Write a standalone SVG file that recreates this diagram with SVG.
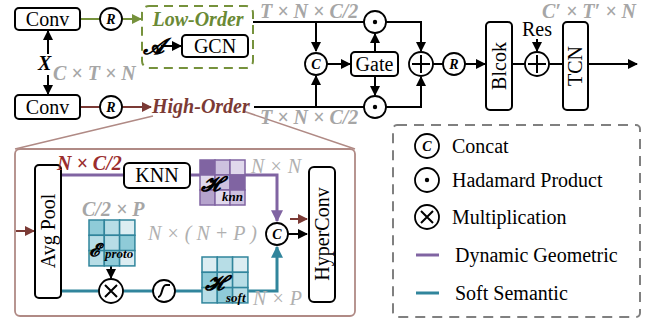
<svg xmlns="http://www.w3.org/2000/svg" width="660" height="326" viewBox="0 0 660 326">
<defs>
<style>
text{font-family:"Liberation Serif","Times New Roman",serif;}
.t{font-size:20px;fill:#000;}
.bi{font-weight:bold;font-style:italic;}
.g{font-size:20px;fill:#a6a6a6;font-weight:bold;font-style:italic;}
.gi{font-size:20px;fill:#b0b0b0;font-style:italic;}
.box{fill:#fff;stroke:#000;stroke-width:2;}
.ln{fill:none;stroke:#000;stroke-width:2;}
.cir{fill:#fff;stroke:#000;stroke-width:1.8;}
.ci{font-size:14px;font-weight:bold;font-style:italic;text-anchor:middle;}
.pu{fill:none;stroke:#8064a2;stroke-width:3;}
.te{fill:none;stroke:#31859c;stroke-width:3;}
.cell{stroke:#31859c;stroke-width:1.5;}
.pcell{stroke:#8064a2;stroke-width:1.5;}
.scr{font-family:"DejaVu Serif","DejaVu Sans",serif;font-weight:bold;font-style:italic;}
.sub{font-size:13px;font-weight:bold;font-style:italic;}
</style>
<marker id="ab" viewBox="0 0 10 10" refX="9" refY="5" markerWidth="5" markerHeight="5" orient="auto"><path d="M0,0 L10,5 L0,10 z" fill="#000"/></marker>
<marker id="ag" viewBox="0 0 10 10" refX="9" refY="5" markerWidth="5" markerHeight="5" orient="auto"><path d="M0,0 L10,5 L0,10 z" fill="#76923c"/></marker>
<marker id="ar" viewBox="0 0 10 10" refX="9" refY="5" markerWidth="5" markerHeight="5" orient="auto"><path d="M0,0 L10,5 L0,10 z" fill="#7b3a35"/></marker>
<marker id="ap" viewBox="0 0 10 10" refX="9" refY="5" markerWidth="4" markerHeight="4" orient="auto"><path d="M0,0 L10,5 L0,10 z" fill="#8064a2"/></marker>
<marker id="at" viewBox="0 0 10 10" refX="9" refY="5" markerWidth="4" markerHeight="4" orient="auto"><path d="M0,0 L10,5 L0,10 z" fill="#31859c"/></marker>
</defs>

<g id="connectors">
<line x1="80" y1="19" x2="100" y2="19" stroke="#76923c" stroke-width="2"/>
<line x1="122" y1="19" x2="141" y2="19" stroke="#76923c" stroke-width="2" marker-end="url(#ag)"/>
<line x1="161" y1="46" x2="181" y2="46" class="ln" marker-end="url(#ab)"/>
<line x1="48" y1="54" x2="48" y2="31" class="ln" marker-end="url(#ab)"/>
<line x1="48" y1="75" x2="48" y2="94" class="ln" marker-end="url(#ab)"/>
<line x1="80" y1="107" x2="100" y2="107" stroke="#7b3a35" stroke-width="2"/>
<line x1="122" y1="107" x2="151" y2="107" stroke="#7b3a35" stroke-width="2" marker-end="url(#ar)"/>
<line x1="253" y1="22" x2="364" y2="22" class="ln"/>
<line x1="254" y1="107" x2="364" y2="107" class="ln"/>
<line x1="316" y1="22" x2="316" y2="51" class="ln" marker-end="url(#ab)"/>
<line x1="316" y1="107" x2="316" y2="76" class="ln" marker-end="url(#ab)"/>
<line x1="327" y1="64" x2="350" y2="64" class="ln" marker-end="url(#ab)"/>
<line x1="375" y1="52" x2="375" y2="34" class="ln" marker-end="url(#ab)"/>
<line x1="375" y1="76" x2="375" y2="95" class="ln" marker-end="url(#ab)"/>
<polyline points="386,22 421,22 421,51" class="ln" marker-end="url(#ab)"/>
<polyline points="386,107 421,107 421,77" class="ln" marker-end="url(#ab)"/>
<line x1="433" y1="64" x2="443" y2="64" class="ln"/>
<line x1="465" y1="64" x2="485" y2="64" class="ln" marker-end="url(#ab)"/>
<line x1="512" y1="64" x2="525" y2="64" class="ln"/>
<line x1="537" y1="39" x2="537" y2="51" class="ln" marker-end="url(#ab)"/>
<line x1="549" y1="64" x2="563" y2="64" class="ln"/>
<line x1="588" y1="64" x2="637" y2="64" class="ln" marker-end="url(#ab)"/>
<line x1="153" y1="116" x2="15" y2="149" stroke="#b08a85" stroke-width="1.5"/>
<line x1="243" y1="111" x2="355" y2="149" stroke="#b08a85" stroke-width="1.5"/>
<line x1="16" y1="231" x2="34" y2="231" stroke="#7b3a35" stroke-width="2" marker-end="url(#ar)"/>
<line x1="61" y1="175" x2="124" y2="175" class="pu"/>
<line x1="190" y1="175" x2="200" y2="175" class="pu"/>
<polyline points="245,175 277,175 277,221" class="pu" marker-end="url(#ap)"/>
<line x1="61" y1="291" x2="99" y2="291" class="te"/>
<line x1="123" y1="291" x2="153" y2="291" class="te"/>
<line x1="175" y1="291" x2="202" y2="291" class="te"/>
<polyline points="248,291 277,291 277,247" class="te" marker-end="url(#at)"/>
<line x1="111" y1="266" x2="111" y2="278" class="ln" stroke-width="1.5" marker-end="url(#ab)"/>
<line x1="288" y1="234" x2="307" y2="234" class="ln" marker-end="url(#ab)"/>
<line x1="290" y1="219" x2="307" y2="219" stroke="#7b3a35" stroke-width="2" marker-end="url(#ar)"/>
</g>

<g id="conv1"><rect x="15" y="8" width="65" height="22" rx="4" class="box"/><text x="47.5" y="26" class="t" text-anchor="middle">Conv</text></g>
<g id="conv2"><rect x="15" y="95" width="65" height="24" rx="4" class="box"/><text x="47.5" y="114" class="t" text-anchor="middle">Conv</text></g>
<g id="r1"><circle cx="111" cy="19" r="11" class="cir"/><text x="111" y="24" class="ci">R</text></g>
<g id="r2"><circle cx="111" cy="107" r="11" class="cir"/><text x="111" y="112" class="ci">R</text></g>
<g id="x-label"><text x="38" y="70" class="t bi">X</text><text x="53" y="80" class="g">C × T × N</text></g>

<g id="low-order">
<rect x="142" y="6" width="111" height="62" rx="7" fill="none" stroke="#76923c" stroke-width="2" stroke-dasharray="9,6"/>
<text x="198" y="26" class="t bi" style="fill:#6a8a35" text-anchor="middle">Low-Order</text>
<text x="143" y="54" class="scr" style="font-size:22px">𝓐</text>
</g>
<g id="gcn"><rect x="182" y="35" width="66" height="22" rx="4" class="box"/><text x="215" y="53" class="t" text-anchor="middle">GCN</text></g>
<g id="high-order"><text x="152" y="113" class="t bi" style="fill:#7b3a35">High-Order</text></g>

<text x="260" y="18" class="g">T × N × C/2</text>
<text x="260" y="124" class="g">T × N × C/2</text>
<text x="542" y="18" class="g">C′ × T′ × N</text>

<g id="had1"><circle cx="375" cy="22" r="11" class="cir"/><circle cx="375" cy="22" r="2.2" fill="#000"/></g>
<g id="had2"><circle cx="375" cy="107" r="11" class="cir"/><circle cx="375" cy="107" r="2.2" fill="#000"/></g>
<g id="concat1"><circle cx="316" cy="64" r="11" class="cir"/><text x="316" y="69" class="ci">C</text></g>
<g id="gate"><rect x="351" y="52" width="47" height="24" rx="4" class="box"/><text x="374.5" y="71" class="t" text-anchor="middle">Gate</text></g>
<g id="plus1"><circle cx="421" cy="64" r="12" class="cir"/><path d="M421,55 V73 M412,64 H430" class="ln" stroke-width="1.8"/></g>
<g id="r3"><circle cx="454" cy="64" r="11" class="cir"/><text x="454" y="69" class="ci">R</text></g>
<g id="blcok"><rect x="486" y="22" width="26" height="88" rx="4" class="box"/><text transform="translate(506,66) rotate(-90)" class="t" text-anchor="middle">Blcok</text></g>
<g id="plus2"><circle cx="537" cy="64" r="12" class="cir"/><path d="M537,55 V73 M528,64 H546" class="ln" stroke-width="1.8"/></g>
<g id="res"><text x="537" y="36" class="t" text-anchor="middle">Res</text></g>
<g id="tcn"><rect x="563" y="22" width="25" height="88" rx="4" class="box"/><text transform="translate(582,66) rotate(-90)" class="t" text-anchor="middle">TCN</text></g>

<g id="detail">
<rect x="15" y="149" width="340" height="167" rx="5" fill="none" stroke="#b08a85" stroke-width="1.8"/>
</g>
<g id="avgpool"><rect x="35" y="165" width="26" height="133" rx="4" class="box"/><text transform="translate(55,231) rotate(-90)" class="t" text-anchor="middle">Avg Pool</text></g>
<text x="57" y="170" class="t bi" style="fill:#9b2d2d">N × C/2</text>
<g id="knn"><rect x="124" y="163" width="66" height="25" rx="5" class="box"/><text x="157" y="182" class="t" text-anchor="middle">KNN</text></g>
<g id="h-knn">
<rect x="200" y="160" width="15" height="15" fill="#8064a2" class="pcell"/><rect x="215" y="160" width="15" height="15" fill="#cdc1df" class="pcell"/><rect x="230" y="160" width="15" height="15" fill="#e0d8ec" class="pcell"/>
<rect x="200" y="175" width="15" height="15" fill="#e0d8ec" class="pcell"/><rect x="215" y="175" width="15" height="15" fill="#cdc1df" class="pcell"/><rect x="230" y="175" width="15" height="15" fill="#8064a2" class="pcell"/>
<rect x="200" y="190" width="15" height="15" fill="#b5a3cc" class="pcell"/><rect x="215" y="190" width="15" height="15" fill="#e0d8ec" class="pcell"/><rect x="230" y="190" width="15" height="15" fill="#cdc1df" class="pcell"/>
<text x="201" y="191" class="scr" style="font-size:21px">𝓗</text><text x="222" y="201" class="sub">knn</text>
</g>
<text x="251" y="173" class="gi">N × N</text>
<g id="concat2"><circle cx="277" cy="234" r="11" class="cir"/><text x="277" y="239" class="ci">C</text></g>
<text x="148" y="240" class="gi">N × ( N + P )</text>
<g id="hyperconv"><rect x="309" y="167" width="26" height="135" rx="5" class="box"/><text transform="translate(329,234) rotate(-90)" class="t" text-anchor="middle">HyperConv</text></g>
<text x="82" y="216" class="g">C/2 × P</text>
<g id="e-proto">
<rect x="89" y="220" width="15.3" height="15.3" fill="#8fcbd8" class="cell"/><rect x="104.3" y="220" width="15.3" height="15.3" fill="#b7dde6" class="cell"/><rect x="119.6" y="220" width="15.3" height="15.3" fill="#dcedf2" class="cell"/>
<rect x="89" y="235.3" width="15.3" height="15.3" fill="#b7dde6" class="cell"/><rect x="104.3" y="235.3" width="15.3" height="15.3" fill="#b7dde6" class="cell"/><rect x="119.6" y="235.3" width="15.3" height="15.3" fill="#8fcbd8" class="cell"/>
<rect x="89" y="250.6" width="15.3" height="15.3" fill="#b7dde6" class="cell"/><rect x="104.3" y="250.6" width="15.3" height="15.3" fill="#8fcbd8" class="cell"/><rect x="119.6" y="250.6" width="15.3" height="15.3" fill="#dcedf2" class="cell"/>
<text x="89" y="256" class="scr" style="font-size:18px">𝓔</text><text x="105" y="258" class="sub">proto</text>
</g>
<g id="mult"><circle cx="111" cy="291" r="12" class="cir"/><path d="M105,285 L117,297 M117,285 L105,297" class="ln" stroke-width="1.6"/></g>
<g id="sigmoid"><circle cx="164" cy="291" r="11" class="cir"/><path d="M158,297 C163,297 161,285 166,285 C168,285 169,285 170,285" class="ln" stroke-width="1.5"/></g>
<g id="h-soft">
<rect x="202" y="257" width="15.3" height="15.3" fill="#dcedf2" class="cell"/><rect x="217.3" y="257" width="15.3" height="15.3" fill="#b7dde6" class="cell"/><rect x="232.6" y="257" width="15.3" height="15.3" fill="#dcedf2" class="cell"/>
<rect x="202" y="272.3" width="15.3" height="15.3" fill="#8fcbd8" class="cell"/><rect x="217.3" y="272.3" width="15.3" height="15.3" fill="#b7dde6" class="cell"/><rect x="232.6" y="272.3" width="15.3" height="15.3" fill="#b7dde6" class="cell"/>
<rect x="202" y="287.6" width="15.3" height="15.3" fill="#b7dde6" class="cell"/><rect x="217.3" y="287.6" width="15.3" height="15.3" fill="#8fcbd8" class="cell"/><rect x="232.6" y="287.6" width="15.3" height="15.3" fill="#b7dde6" class="cell"/>
<text x="205" y="290" class="scr" style="font-size:21px">𝓗</text><text x="226" y="302" class="sub">soft</text>
</g>
<text x="253" y="305" class="gi">N × P</text>

<g id="legend">
<rect x="393" y="125" width="247" height="192" rx="4" fill="none" stroke="#808080" stroke-width="2" stroke-dasharray="10,7"/>
<circle cx="427" cy="146" r="12" class="cir"/><text x="427" y="151" class="ci">C</text>
<text x="452" y="153" class="t">Concat</text>
<circle cx="427" cy="180" r="12" class="cir"/><circle cx="427" cy="180" r="2.2" fill="#000"/>
<text x="452" y="187" class="t">Hadamard Product</text>
<circle cx="427" cy="217" r="12" class="cir"/><path d="M421,211 L433,223 M433,211 L421,223" class="ln" stroke-width="1.6"/>
<text x="452" y="224" class="t">Multiplication</text>
<line x1="416" y1="255" x2="439" y2="255" class="pu"/>
<text x="455" y="262" class="t">Dynamic Geometric</text>
<line x1="416" y1="293" x2="439" y2="293" class="te"/>
<text x="455" y="300" class="t">Soft Semantic</text>
</g>
</svg>
